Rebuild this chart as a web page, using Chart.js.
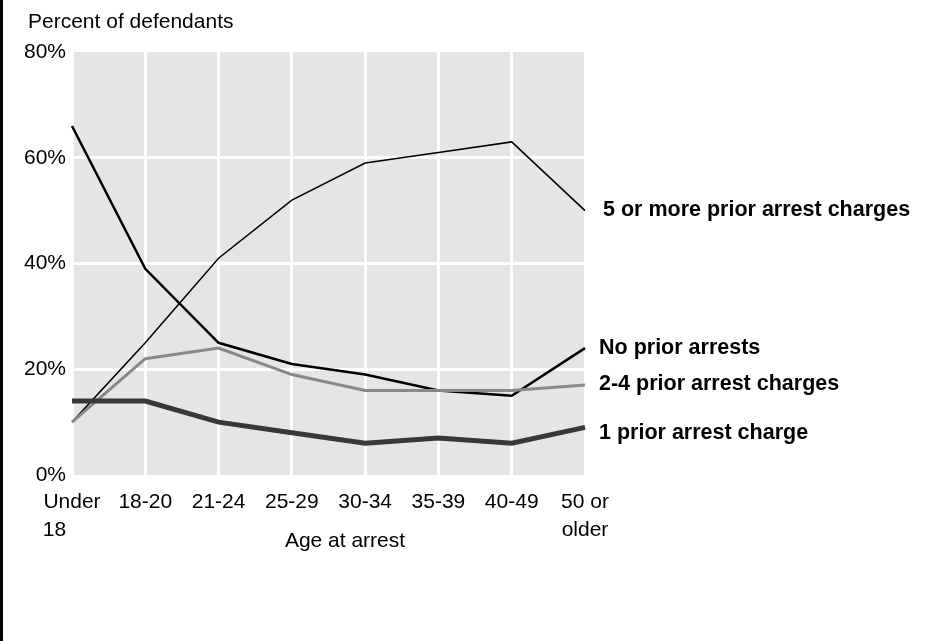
<!DOCTYPE html>
<html>
<head>
<meta charset="utf-8">
<script src="https://cdn.jsdelivr.net/npm/chart.js@4"></script>
<style>
  html, body { margin: 0; padding: 0; background: #fff; }
  #wrap { width: 945px; height: 641px; position: relative; }
</style>
</head>
<body>
<div id="wrap"><canvas id="myChart"></canvas></div>
<script>
// categories and series (percent of defendants)
const ageGroups = [['Under', '18      '], '18-20', '21-24', '25-29', '30-34', '35-39', '40-49', ['50 or', 'older']];
const fiveOrMore = [10, 25, 41, 52, 59, 61, 63, 50];
const noPrior = [66, 39, 25, 21, 19, 16, 15, 24];
const twoToFour = [10, 22, 24, 19, 16, 16, 16, 17];
const onePrior = [14, 14, 10, 8, 6, 7, 6, 9];
const yTicks = [0, 20, 40, 60, 80];

const FONT = 'Liberation Sans, Arial, Helvetica, sans-serif';

// gray plot background, border line and free text
const decor = {
    id: 'decor',
    beforeDraw(chart) {
        const c = chart.ctx, a = chart.chartArea;
        c.save();
        c.fillStyle = '#e5e5e5';
        c.fillRect(a.left, a.top, a.right - a.left, a.bottom - a.top);
        c.restore();
    },
    afterDraw(chart) {
        const c = chart.ctx;
        const y = chart.scales.y;
        c.save();
        c.fillStyle = '#000';
        c.fillRect(0, 0, 3, chart.height); // left rule
        c.font = '21px ' + FONT;
        c.textBaseline = 'middle';
        c.textAlign = 'left';
        c.fillText('Percent of defendants', 28, 22);
        c.textAlign = 'center';
        c.fillText('Age at arrest', 345, 541);
        // end labels next to the last point of each series
        c.font = 'bold 21.5px ' + FONT;
        c.textAlign = 'left';
        const labels = [
            ['5 or more prior arrest charges', fiveOrMore, 603, -1],
            ['No prior arrests', noPrior, 599, 0],
            ['2-4 prior arrest charges', twoToFour, 599, -1],
            ['1 prior arrest charge', onePrior, 599, 6]
        ];
        labels.forEach(([txt, arr, x, dy]) => {
            c.fillText(txt, x, y.getPixelForValue(arr[arr.length - 1]) + dy);
        });
        c.restore();
    }
};

const ctx = document.getElementById('myChart').getContext('2d');
const chart = new Chart(ctx, {
    type: 'line',
    data: {
        labels: ageGroups,
        datasets: [
            { label: '1 prior arrest charge', data: onePrior, borderColor: '#383838', borderWidth: 5 },
            { label: '2-4 prior arrest charges', data: twoToFour, borderColor: '#888888', borderWidth: 3 },
            { label: 'No prior arrests', data: noPrior, borderColor: '#000000', borderWidth: 2.5 },
            { label: '5 or more prior arrest charges', data: fiveOrMore, borderColor: '#000000', borderWidth: 1.5 }
        ].map(d => Object.assign(d, { fill: false, pointRadius: 0, tension: 0 }))
    },
    options: {
        responsive: true,
        maintainAspectRatio: false,
        animation: false,
        layout: { padding: { left: 0, top: 52, right: 360, bottom: 95 } },
        plugins: { legend: { display: false }, tooltip: { enabled: false } },
        scales: {
            x: {
                offset: false,
                border: { display: false },
                grid: { color: '#ffffff', lineWidth: 3, drawTicks: false },
                afterFit(scale) { scale.height = 71; },
                ticks: { color: '#000', font: { family: FONT, size: 21, lineHeight: 1.33 }, padding: 13, maxRotation: 0, autoSkip: false }
            },
            y: {
                min: 0, max: 80,
                border: { display: false },
                afterFit(scale) { scale.width = 72; },
                afterBuildTicks(scale) { scale.ticks = yTicks.map(v => ({ value: v })); },
                grid: { color: ctx => (ctx.tick && (ctx.tick.value === 0 || ctx.tick.value === 80)) ? 'rgba(0,0,0,0)' : '#ffffff', lineWidth: 3, drawTicks: false },
                ticks: { color: '#000', font: { family: FONT, size: 21 }, padding: 6, callback: v => v + '%' }
            }
        }
    },
    plugins: [decor]
});
</script>
</body>
</html>
